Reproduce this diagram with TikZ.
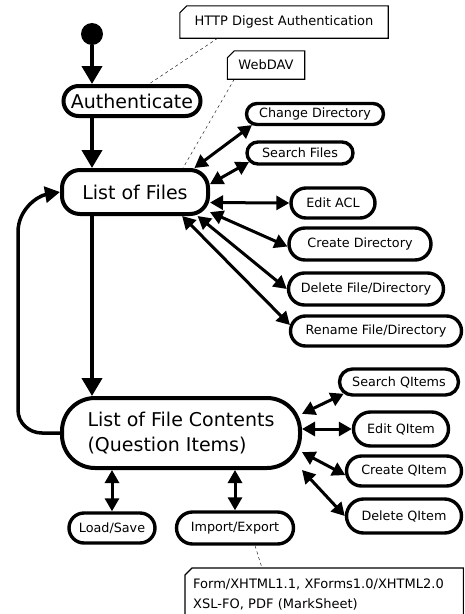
\documentclass[tikz,border=0pt]{standalone}
\usepackage{fontspec}
\setmainfont{DejaVu Sans}
\usetikzlibrary{arrows.meta,shapes.misc}

\begin{document}
\begin{tikzpicture}[x=1pt, y=-1pt,
		act/.style={draw, line width=4pt, rectangle, font=\fontsize{19}{25}\selectfont, inner sep=0pt},
		task/.style={draw, line width=3.4pt, rounded rectangle, font=\fontsize{12.75}{16}\selectfont, inner sep=0pt},
		note/.style={font=\fontsize{13}{20}\selectfont, inner sep=0pt},
		flow/.style={line width=4pt, -{Triangle[length=18pt,width=20pt]}},
		both/.style={line width=3pt, {Triangle[length=13pt,width=14pt]}-{Triangle[length=13pt,width=14pt]}},
		link/.style={thin, dashed}]
		\useasboundingbox (0, 0) rectangle (465, 614);

		\node (start) at (92, 34) [circle, fill, inner sep=0pt, minimum size=22pt] {};
		\node (auth) at (132, 101) [act, rounded rectangle, minimum width=137pt, minimum height=30pt] {Authenticate};
		\node (lof) at (135, 192) [act, rounded corners=18pt, minimum width=146pt, minimum height=44pt] {List of Files};
		\node (lofc) at (181, 433) [act, rounded corners=33pt, minimum width=238pt, minimum height=70pt, align=left] {List of File Contents\\(Question Items)};

		\node (chdir) at (315, 114) [task, minimum width=137pt, minimum height=21pt] {Change Directory};
		\node (srch) at (300, 153) [task, minimum width=106pt, minimum height=22pt] {Search Files};
		\node (acl) at (333, 203) [task, minimum width=84pt, minimum height=30pt] {Edit ACL};
		\node (crdir) at (360, 244) [task, minimum width=142pt, minimum height=32pt] {Create Directory};
		\node (delf) at (366, 289) [task, minimum width=155pt, minimum height=32pt] {Delete File/Directory};
		\node (renf) at (376, 331) [task, minimum width=171pt, minimum height=30pt] {Rename File/Directory};

		\node (sqi) at (399, 382) [task, minimum width=119pt, minimum height=26pt] {Search QItems};
		\node (eqi) at (401, 429) [task, minimum width=95pt, minimum height=34pt] {Edit QItem};
		\node (cqi) at (404, 471) [task, minimum width=115pt, minimum height=30pt] {Create QItem};
		\node (dqi) at (404, 516) [task, minimum width=115pt, minimum height=34pt] {Delete QItem};
		\node (ls) at (112, 528) [task, minimum width=86pt, minimum height=30pt] {Load/Save};
		\node (ie) at (235, 528) [task, minimum width=117pt, minimum height=32pt] {Import/Export};

		% notes
		\node (httpnote) at (284, 22) [note, minimum width=208pt, minimum height=32pt] {HTTP Digest Authentication};
		\node (davnote) at (266, 65) [note, minimum width=77pt, minimum height=28pt] {WebDAV};
		\node (fmtnote) at (185, 568) [note, anchor=north west, text width=262pt, inner xsep=8pt, inner ysep=5pt, minimum height=52pt, align=left] {Form/XHTML1.1, XForms1.0/XHTML2.0\\XSL-FO, PDF (MarkSheet)};
		\foreach \n in {httpnote, davnote, fmtnote}
			\draw[line width=1.1pt] ([yshift=-7pt]\n.north west) -- ([xshift=7pt]\n.north west) -- (\n.north east) -- (\n.south east) -- (\n.south west) -- cycle;

		\path (start) edge[flow] (start |- auth.north);
		\path (start |- auth.south) edge[flow] (start |- lof.north);
		\path (start |- lof.south) edge[flow] (start |- lofc.north);
		\draw[line width=3.5pt, -{Triangle[length=15pt,width=16pt]}] (lofc.west) -- (42, 433) to[out=180, in=-90] (18, 410) -- (18, 232) to[out=90, in=190] (lof.west);

		\path (lof.22) edge[both] (chdir.190);
		\path (lof.6) edge[both] (srch.190);
		\path (lof.352) edge[both] (acl.west);
		\path (lof.345) edge[both] (crdir.182);
		\path (lof.339) edge[both] (delf.west);
		\path (lof.333) edge[both] (renf.176);

		\path (lofc.9) edge[both] (sqi.192);
		\path (lofc.east |- eqi.west) edge[both] (eqi.west);
		\path (lofc.351) edge[both] (cqi.184);
		\path (lofc.343) edge[both] (dqi.west);
		\path (ls.north |- lofc.south) edge[both] (ls.north);
		\path (ie.north |- lofc.south) edge[both] (ie.north);

		\path ([xshift=38pt]httpnote.south west) edge[link] (auth.45);
		\path ([xshift=7pt]davnote.south west) edge[link] ([xshift=48pt]lof.north);
		\path ([xshift=20pt]ie.south) edge[link] ([xshift=77pt]fmtnote.north west);
	\end{tikzpicture}
\end{document}
